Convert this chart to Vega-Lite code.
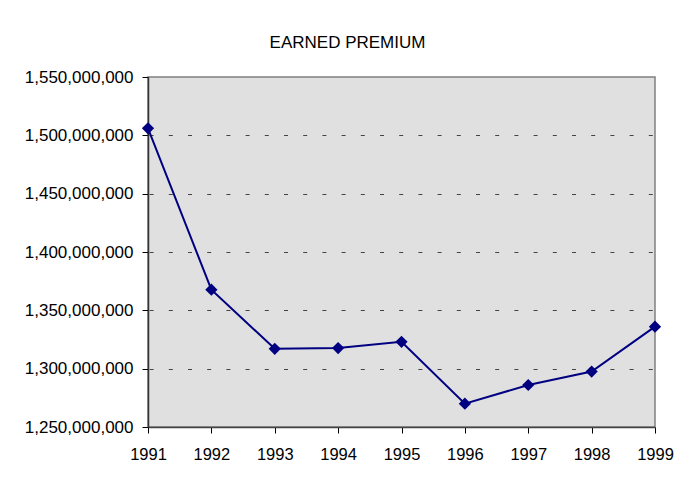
{
  "$schema": "https://vega.github.io/schema/vega-lite/v6.json",
  "autosize": "none",
  "width": 507,
  "height": 350,
  "padding": {"left": 148, "top": 77, "right": 34, "bottom": 51},
  "background": "white",
  "title": {
    "text": "EARNED PREMIUM",
    "font": "Liberation Sans",
    "fontSize": 17,
    "fontWeight": "normal",
    "color": "black",
    "anchor": "middle",
    "frame": "group",
    "dx": -54,
    "baseline": "alphabetic",
    "offset": 3
  },
  "data": {
    "values": [
      {"year": "1991", "premium": 1506000000},
      {"year": "1992", "premium": 1367700000},
      {"year": "1993", "premium": 1317000000},
      {"year": "1994", "premium": 1317700000},
      {"year": "1995", "premium": 1323000000},
      {"year": "1996", "premium": 1270000000},
      {"year": "1997", "premium": 1286000000},
      {"year": "1998", "premium": 1297500000},
      {"year": "1999", "premium": 1336000000}
    ]
  },
  "mark": {
    "type": "line",
    "color": "#000080",
    "strokeWidth": 2,
    "point": {"shape": "diamond", "size": 150, "filled": true, "color": "#000080", "opacity": 1}
  },
  "encoding": {
    "x": {
      "field": "year",
      "type": "ordinal",
      "scale": {"type": "point", "padding": 0},
      "axis": {
        "title": null,
        "labelAngle": 0,
        "labelFont": "Liberation Sans",
        "labelFontSize": 16.5,
        "labelColor": "black",
        "labelPadding": 13,
        "tickSize": 6,
        "tickColor": "black",
        "tickWidth": 1,
        "domainColor": "#444444",
        "domainWidth": 1.5,
        "grid": false
      }
    },
    "y": {
      "field": "premium",
      "type": "quantitative",
      "scale": {"domain": [1250000000, 1550000000], "zero": false, "nice": false},
      "axis": {
        "title": null,
        "values": [1250000000, 1300000000, 1350000000, 1400000000, 1450000000, 1500000000, 1550000000],
        "format": ",d",
        "labelFont": "Liberation Sans",
        "labelFontSize": 17,
        "labelColor": "black",
        "labelPadding": 9,
        "tickSize": 6,
        "tickColor": "black",
        "tickWidth": 1,
        "domainColor": "#333333",
        "domainWidth": 1.5,
        "grid": true,
        "gridColor": "#444444",
        "gridWidth": 1,
        "gridDash": [4, 15.2],
        "gridDashOffset": 18.1,
        "gridOpacity": {
          "condition": {"test": "datum.value == 1250000000 || datum.value == 1550000000", "value": 0},
          "value": 1
        }
      }
    }
  },
  "config": {
    "view": {"fill": "#e0e0e0", "stroke": "#808080", "strokeWidth": 1.5}
  }
}
